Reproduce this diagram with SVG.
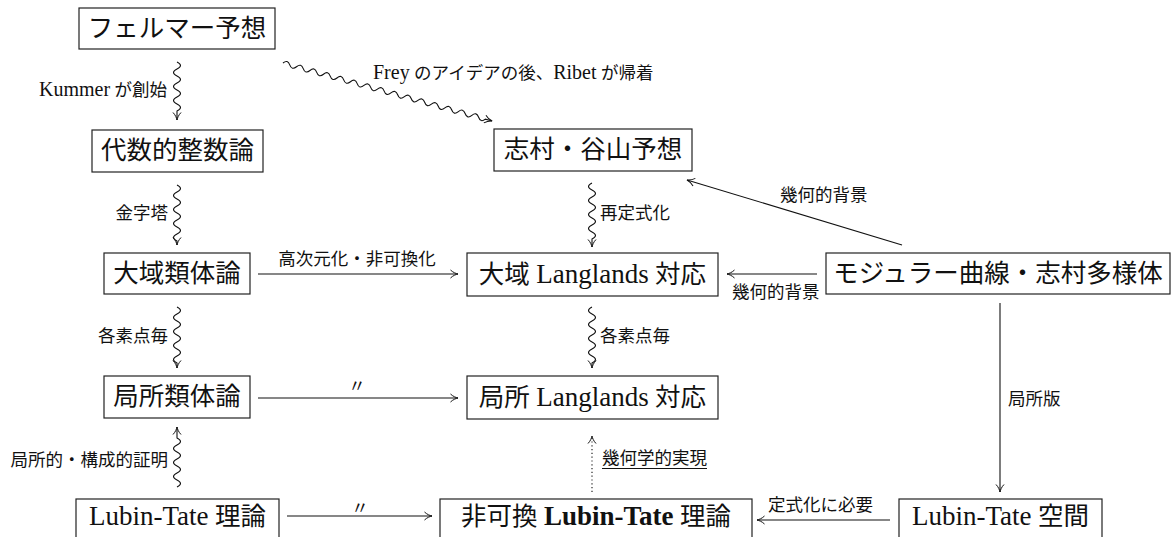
<svg xmlns="http://www.w3.org/2000/svg" width="1174" height="537" viewBox="0 0 1174 537">
<style>
.box{fill:#fff;stroke:#222;stroke-width:1.2}
.bx{font-family:'Liberation Serif','Noto Sans CJK JP',serif;font-size:25.5px;fill:#111;text-anchor:middle}
.bl{font-size:27px}
.bb{font-size:27px;font-weight:bold}
.lab{font-family:'Liberation Serif','Noto Sans CJK JP',serif;font-size:17.5px;fill:#111}
.ll{font-size:20px}
.ln{fill:none;stroke:#111;stroke-width:1.1;marker-end:url(#ar)}
.dot{stroke-dasharray:1.2 2.6}
</style>
<defs>
<marker id="ar" markerUnits="userSpaceOnUse" viewBox="-9 -6 10 12" refX="0" refY="0" markerWidth="10" markerHeight="12" orient="auto" overflow="visible">
<path d="M-7.5,-4 C-5,-1.6 -2,-0.4 0,0 C-2,0.4 -5,1.6 -7.5,4" fill="none" stroke="#111" stroke-width="1"/>
</marker>
</defs>

<g id="connectors">
<!-- wavy verticals -->
<path class="ln" d="M177,62 q7,3.5 0,7 t0,7 t0,7 t0,7 t0,7 t0,7 t0,7 L177,120"/>
<path class="ln" d="M177,185 q7,3.5 0,7 t0,7 t0,7 t0,7 t0,7 t0,7 t0,7 t0,7 L177,245"/>
<path class="ln" d="M177,307 q7,3.5 0,7 t0,7 t0,7 t0,7 t0,7 t0,7 t0,7 t0,7 L177,368"/>
<path class="ln" d="M177,487 q7,-3.5 0,-7 t0,-7 t0,-7 t0,-7 t0,-7 t0,-7 t0,-7 L177,427"/>
<path class="ln" d="M592,183 q-7,3.5 0,7 t0,7 t0,7 t0,7 t0,7 t0,7 t0,7 t0,7 L592,247"/>
<path class="ln" d="M592,307 q-7,3.5 0,7 t0,7 t0,7 t0,7 t0,7 t0,7 t0,7 t0,7 L592,368"/>
<!-- diagonal wavy -->
<g transform="translate(283,63) rotate(15.5)">
<path class="ln" d="M0,0 q3.5,-5 7,0 t7,0 t7,0 t7,0 t7,0 t7,0 t7,0 t7,0 t7,0 t7,0 t7,0 t7,0 t7,0 t7,0 t7,0 t7,0 t7,0 t7,0 t7,0 t7,0 t7,0 t7,0 t7,0 t7,0 t7,0 t7,0 t7,0 t7,0 t7,0 t7,0 L217,0"/>
</g>
<!-- straight -->
<path class="ln" d="M258,274 L458,274"/>
<path class="ln" d="M258,398 L458,398"/>
<path class="ln" d="M287,516 L432,516"/>
<path class="ln" d="M890,520 L757,520"/>
<path class="ln" d="M817,274 L727,274"/>
<path class="ln" d="M902,245 L687,180"/>
<path class="ln" d="M1000,303 L1000,492"/>
<path class="ln dot" d="M592,492 L592,436"/>

<text class="lab" x="167" y="96" text-anchor="end"><tspan class="ll">Kummer</tspan> が創始</text>
<text class="lab" x="373" y="79"><tspan class="ll">Frey</tspan> のアイデアの後、<tspan class="ll">Ribet</tspan> が帰着</text>
<text class="lab" x="168" y="219" text-anchor="end">金字塔</text>
<text class="lab" x="168" y="342" text-anchor="end">各素点毎</text>
<text class="lab" x="168" y="466" text-anchor="end">局所的・構成的証明</text>
<text class="lab" x="600" y="219">再定式化</text>
<text class="lab" x="600" y="342">各素点毎</text>
<text class="lab" x="357" y="265" text-anchor="middle">高次元化・非可換化</text>
<text class="lab" x="357" y="392" text-anchor="middle">〃</text>
<text class="lab" x="360" y="514" text-anchor="middle">〃</text>
<text class="lab" x="780" y="201">幾何的背景</text>
<text class="lab" x="732" y="298">幾何的背景</text>
<text class="lab" x="1008" y="405">局所版</text>
<text class="lab" x="768" y="511">定式化に必要</text>
<text class="lab" x="602" y="464">幾何学的実現</text>
<line x1="602" y1="468.5" x2="707" y2="468.5" stroke="#111" stroke-width="1"/>
</g>

<g id="fermat"><rect class="box" x="79" y="8" width="196" height="41"/><text class="bx" x="177" y="37">フェルマー予想</text></g>
<g id="algnt"><rect class="box" x="92" y="130" width="171" height="42"/><text class="bx" x="177.5" y="159">代数的整数論</text></g>
<g id="stconj"><rect class="box" x="494" y="129" width="198" height="42"/><text class="bx" x="593" y="158">志村・谷山予想</text></g>
<g id="gcft"><rect class="box" x="104" y="253" width="146" height="41"/><text class="bx" x="177" y="282">大域類体論</text></g>
<g id="glang"><rect class="box" x="467" y="253" width="251" height="43"/><text class="bx" x="592.5" y="283">大域 <tspan class="bl">Langlands</tspan> 対応</text></g>
<g id="modular"><rect class="box" x="826" y="253" width="344" height="41"/><text class="bx" x="998" y="282">モジュラー曲線・志村多様体</text></g>
<g id="lcft"><rect class="box" x="104" y="376" width="146" height="42"/><text class="bx" x="177" y="405">局所類体論</text></g>
<g id="llang"><rect class="box" x="467" y="376" width="251" height="43"/><text class="bx" x="592.5" y="406">局所 <tspan class="bl">Langlands</tspan> 対応</text></g>
<g id="lt"><rect class="box" x="76" y="499" width="203" height="45"/><text class="bx" x="177.5" y="525"><tspan class="bl">Lubin-Tate</tspan> 理論</text></g>
<g id="nclt"><rect class="box" x="440" y="499" width="312" height="45"/><text class="bx" x="596" y="525">非可換 <tspan class="bb">Lubin-Tate</tspan> 理論</text></g>
<g id="ltspace"><rect class="box" x="899" y="499" width="203" height="45"/><text class="bx" x="1000.5" y="525"><tspan class="bl">Lubin-Tate</tspan> 空間</text></g>
</svg>
